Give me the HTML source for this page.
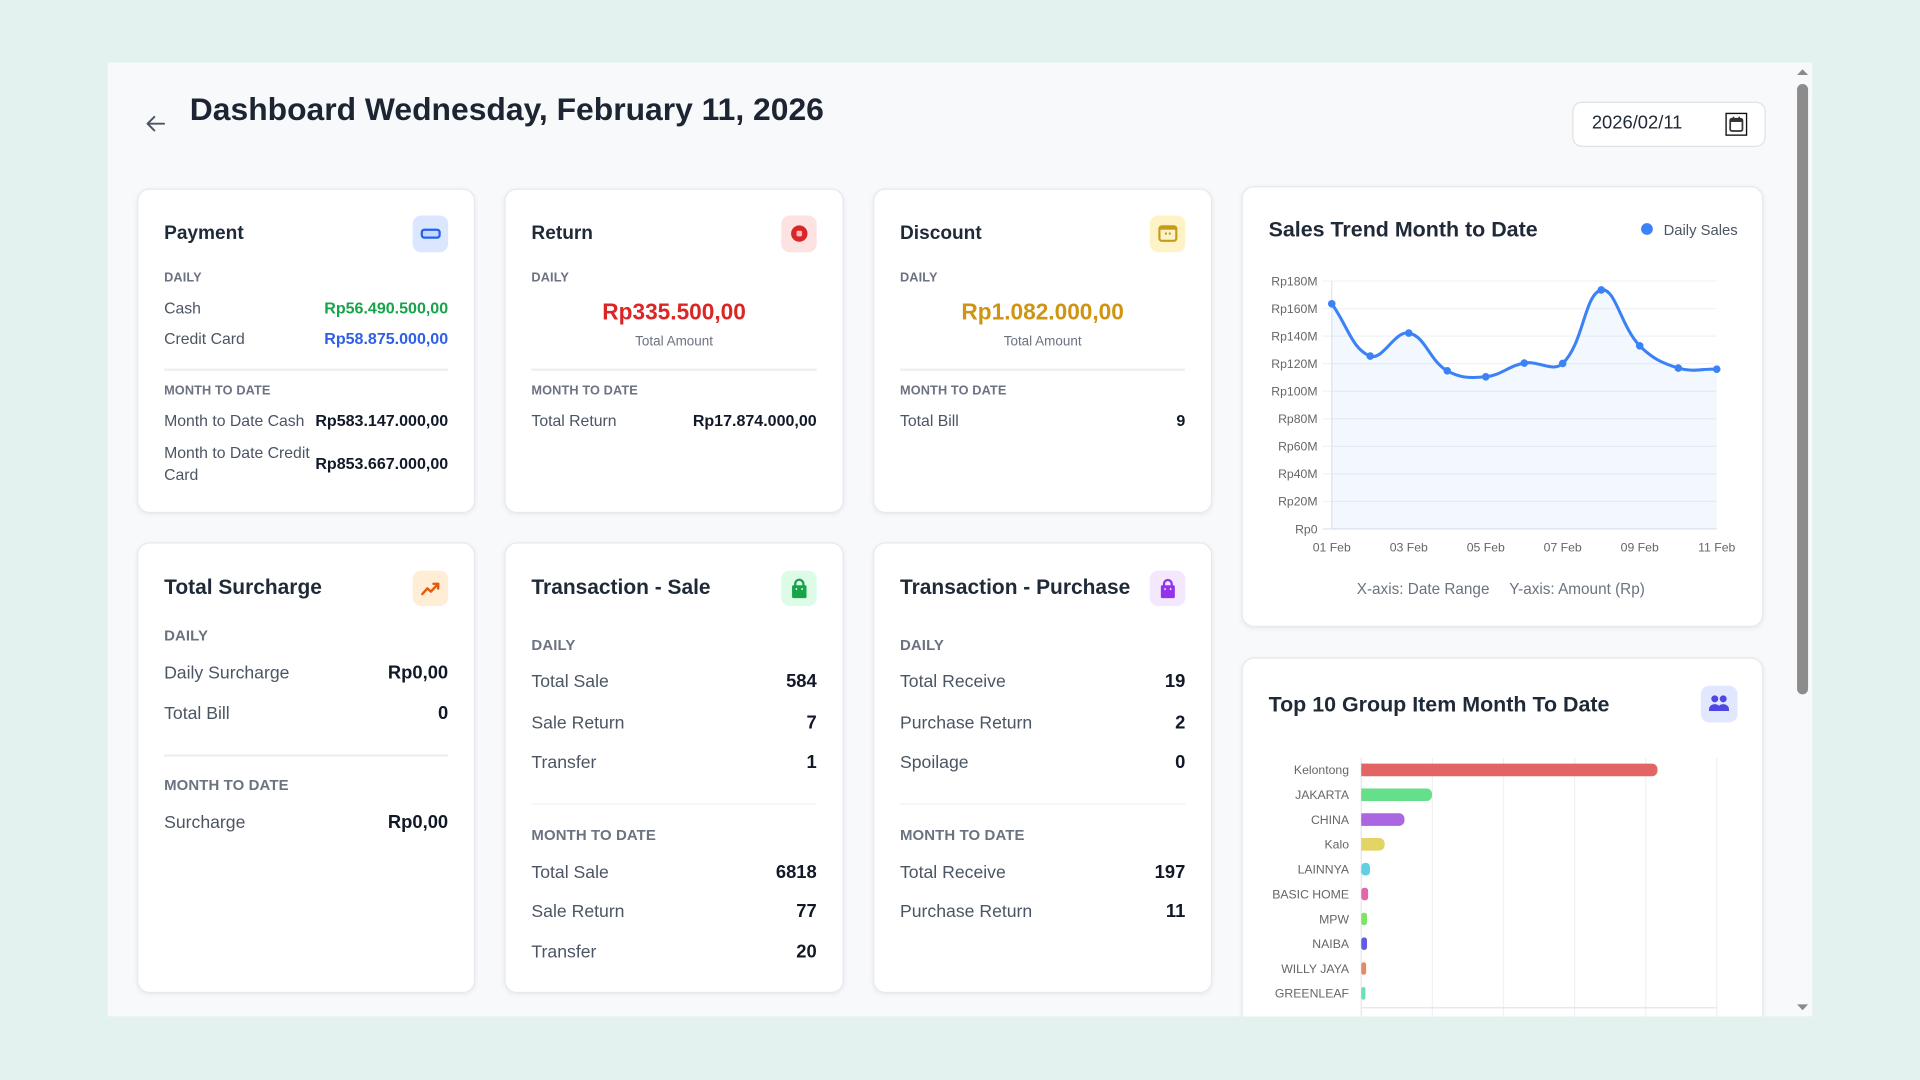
<!DOCTYPE html>
<html><head><meta charset="utf-8"><style>
html,body{margin:0;padding:0}
body{width:1920px;height:1080px;overflow:hidden;background:#e4f2ef;font-family:"Liberation Sans",Arial,sans-serif;position:relative}
#w{position:absolute;left:0;top:0;width:1568px;height:882px;transform:scale(1.2244898);transform-origin:0 0}
.panel{position:absolute;left:88px;top:51px;width:1392px;height:779px;background:#f8f9fb;overflow:hidden}
.inner{position:absolute;left:-88px;top:-51px;width:1568px;height:882px}
.card{position:absolute;background:#fff;border:1px solid #e7e9ee;border-radius:10px;box-shadow:0 1px 4px rgba(16,24,40,0.07);box-sizing:border-box}
.t{position:absolute;line-height:20px;white-space:nowrap}
.l{left:21px}.r{right:21px;text-align:right}
.h1{font-size:15.6px;font-weight:bold;color:#1f2937}
.h2{font-size:17.1px;font-weight:bold;color:#1f2937}
.s1{font-size:10.4px;font-weight:bold;color:#6b7280;letter-spacing:.1px}
.s2{font-size:12.2px;font-weight:bold;color:#6b7280;letter-spacing:.1px}
.lb1{font-size:12.9px;color:#4b5563}
.v1{font-size:13.1px;font-weight:bold;color:#111827}
.lb2{font-size:14.4px;color:#4b5563}
.v2{font-size:15px;font-weight:bold;color:#111827}
.div{position:absolute;left:21px;right:21px;height:1.5px;background:#eef0f3}
.ic{position:absolute;right:21px;width:29.5px;height:29.5px;border-radius:7px}
.ic svg{display:block;width:100%;height:100%}
.c{left:0;right:0;text-align:center}
</style></head><body>
<div id="w">
<div class="panel"><div class="inner">

<svg style="position:absolute;left:0;top:0" width="1568" height="882">
<path d="M134 101 H120.5 M126 95.5 L120.5 101 L126 106.5" stroke="#4b5563" stroke-width="1.6" fill="none" stroke-linecap="round" stroke-linejoin="round"/>
</svg>
<div class="t" style="left:155px;top:73px;line-height:32px;font-size:26px;font-weight:bold;color:#1e2532">Dashboard Wednesday, February 11, 2026</div>

<div style="position:absolute;left:1283.5px;top:82.5px;width:158px;height:37.5px;border:1px solid #dfe2e6;border-radius:8px;background:#fff;box-sizing:border-box">
  <div class="t" style="left:15.5px;top:7.5px;font-size:15px;color:#1f2937">2026/02/11</div>
  <svg style="position:absolute;left:124.3px;top:8.5px" width="18" height="19" viewBox="0 0 18 19">
    <rect x="0.6" y="0.6" width="16.8" height="17.8" fill="none" stroke="#111" stroke-width="1.2"/>
    <rect x="4" y="5" width="10" height="10" rx="1.3" fill="none" stroke="#333" stroke-width="1.4"/>
    <rect x="4" y="5" width="10" height="2.6" fill="#333"/>
    <rect x="6" y="3.3" width="1.3" height="2.5" fill="#333"/><rect x="10.7" y="3.3" width="1.3" height="2.5" fill="#333"/>
  </svg>
</div>

<div class="card" style="left:112px;top:154px;width:276px;height:265px">
  <div class="t l h1" style="top:26px">Payment</div>
  <div class="ic" style="top:21px;background:#dbe7fe"><svg viewBox="0 0 30 30"><rect x="7.6" y="11.8" width="14.8" height="6.6" rx="2.2" fill="#c9d9fd" stroke="#2563eb" stroke-width="1.9"/></svg></div>
  <div class="t l s1" style="top:63px">DAILY</div>
  <div class="t l lb1" style="top:87px">Cash</div>
  <div class="t r v1" style="top:87px;color:#16a34a">Rp56.490.500,00</div>
  <div class="t l lb1" style="top:112px">Credit Card</div>
  <div class="t r v1" style="top:112px;color:#2f5fe8">Rp58.875.000,00</div>
  <div class="div" style="top:146px"></div>
  <div class="t l s1" style="top:155px">MONTH TO DATE</div>
  <div class="t l lb1" style="top:179px">Month to Date Cash</div>
  <div class="t r v1" style="top:179px">Rp583.147.000,00</div>
  <div class="t l lb1" style="top:205px">Month to Date Credit</div>
  <div class="t l lb1" style="top:223px">Card</div>
  <div class="t r v1" style="top:214px">Rp853.667.000,00</div>
</div>

<div class="card" style="left:412px;top:154px;width:277px;height:265px">
  <div class="t l h1" style="top:26px">Return</div>
  <div class="ic" style="top:21px;background:#fde2e2"><svg viewBox="0 0 30 30"><circle cx="15" cy="15" r="6.8" fill="#dc2626"/><rect x="12.7" y="12.7" width="4.6" height="4.6" rx="1.2" fill="#f8bcbc"/></svg></div>
  <div class="t l s1" style="top:63px">DAILY</div>
  <div class="t c" style="top:89px;line-height:22px;font-size:18.5px;font-weight:bold;color:#dc2626">Rp335.500,00</div>
  <div class="t c" style="top:114px;font-size:11px;color:#6b7280">Total Amount</div>
  <div class="div" style="top:146px"></div>
  <div class="t l s1" style="top:155px">MONTH TO DATE</div>
  <div class="t l lb1" style="top:179px">Total Return</div>
  <div class="t r v1" style="top:179px">Rp17.874.000,00</div>
</div>

<div class="card" style="left:713px;top:154px;width:277px;height:265px">
  <div class="t l h1" style="top:26px">Discount</div>
  <div class="ic" style="top:21px;background:#fef3c7"><svg viewBox="0 0 30 30"><rect x="8" y="9" width="14" height="12" rx="2" fill="none" stroke="#c99a1a" stroke-width="1.8"/><rect x="8" y="9" width="14" height="2.8" fill="#c99a1a"/><circle cx="13.4" cy="15" r="0.95" fill="#c99a1a"/><circle cx="16.6" cy="15" r="0.95" fill="#c99a1a"/></svg></div>
  <div class="t l s1" style="top:63px">DAILY</div>
  <div class="t c" style="top:89px;line-height:22px;font-size:18.5px;font-weight:bold;color:#cf9410">Rp1.082.000,00</div>
  <div class="t c" style="top:114px;font-size:11px;color:#6b7280">Total Amount</div>
  <div class="div" style="top:146px"></div>
  <div class="t l s1" style="top:155px">MONTH TO DATE</div>
  <div class="t l lb1" style="top:179px">Total Bill</div>
  <div class="t r v1" style="top:179px">9</div>
</div>

<div class="card" style="left:112px;top:443px;width:276px;height:368px">
  <div class="t l h2" style="top:26px">Total Surcharge</div>
  <div class="ic" style="top:21.5px;background:#ffedd5"><svg viewBox="0 0 30 30"><polyline points="8,19.5 12.2,14.8 15.2,17.4 21.2,11" fill="none" stroke="#ea580c" stroke-width="2" stroke-linejoin="round" stroke-linecap="round"/><polyline points="17.3,11 21.2,11 21.2,14.9" fill="none" stroke="#ea580c" stroke-width="2" stroke-linejoin="round" stroke-linecap="round"/></svg></div>
  <div class="t l s2" style="top:64.5px">DAILY</div>
  <div class="t l lb2" style="top:95.5px">Daily Surcharge</div>
  <div class="t r v2" style="top:95.5px">Rp0,00</div>
  <div class="t l lb2" style="top:129px">Total Bill</div>
  <div class="t r v2" style="top:129px">0</div>
  <div class="div" style="top:172px"></div>
  <div class="t l s2" style="top:186.5px">MONTH TO DATE</div>
  <div class="t l lb2" style="top:218px">Surcharge</div>
  <div class="t r v2" style="top:218px">Rp0,00</div>
</div>

<div class="card" style="left:412px;top:443px;width:277px;height:368px">
  <div class="t l h2" style="top:26px">Transaction - Sale</div>
  <div class="ic" style="top:21.5px;background:#dcfce7"><svg viewBox="0 0 30 30"><path d="M11.6 13 V11 a3.4 3.4 0 0 1 6.8 0 V13" fill="none" stroke="#16a34a" stroke-width="1.9"/><path d="M9 13.2 Q9 12.2 10 12.2 H20 Q21 12.2 21 13.2 V21.6 Q21 22.8 19.8 22.8 H10.2 Q9 22.8 9 21.6 Z" fill="#16a34a"/><circle cx="12.6" cy="15.3" r="0.8" fill="#dcfce7"/><circle cx="17.4" cy="15.3" r="0.8" fill="#dcfce7"/></svg></div>
  <div class="t l s2" style="top:72.5px">DAILY</div>
  <div class="t l lb2" style="top:103px">Total Sale</div><div class="t r v2" style="top:103px">584</div>
  <div class="t l lb2" style="top:136.5px">Sale Return</div><div class="t r v2" style="top:136.5px">7</div>
  <div class="t l lb2" style="top:169px">Transfer</div><div class="t r v2" style="top:169px">1</div>
  <div class="div" style="top:211.5px"></div>
  <div class="t l s2" style="top:227.5px">MONTH TO DATE</div>
  <div class="t l lb2" style="top:258.5px">Total Sale</div><div class="t r v2" style="top:258.5px">6818</div>
  <div class="t l lb2" style="top:291px">Sale Return</div><div class="t r v2" style="top:291px">77</div>
  <div class="t l lb2" style="top:323.5px">Transfer</div><div class="t r v2" style="top:323.5px">20</div>
</div>

<div class="card" style="left:713px;top:443px;width:277px;height:368px">
  <div class="t l h2" style="top:26px">Transaction - Purchase</div>
  <div class="ic" style="top:21.5px;background:#f3e8ff"><svg viewBox="0 0 30 30"><path d="M11.8 13 V11 a3.2 3.2 0 0 1 6.4 0 V13" fill="none" stroke="#9333ea" stroke-width="1.9"/><path d="M9.2 13.2 Q9.2 12.2 10.2 12.2 H19.8 Q20.8 12.2 20.8 13.2 V21.6 Q20.8 22.8 19.6 22.8 H10.4 Q9.2 22.8 9.2 21.6 Z" fill="#9333ea"/><circle cx="12.7" cy="15.3" r="0.8" fill="#f3e8ff"/><circle cx="17.3" cy="15.3" r="0.8" fill="#f3e8ff"/></svg></div>
  <div class="t l s2" style="top:72.5px">DAILY</div>
  <div class="t l lb2" style="top:103px">Total Receive</div><div class="t r v2" style="top:103px">19</div>
  <div class="t l lb2" style="top:136.5px">Purchase Return</div><div class="t r v2" style="top:136.5px">2</div>
  <div class="t l lb2" style="top:169px">Spoilage</div><div class="t r v2" style="top:169px">0</div>
  <div class="div" style="top:211.5px"></div>
  <div class="t l s2" style="top:227.5px">MONTH TO DATE</div>
  <div class="t l lb2" style="top:258.5px">Total Receive</div><div class="t r v2" style="top:258.5px">197</div>
  <div class="t l lb2" style="top:291px">Purchase Return</div><div class="t r v2" style="top:291px">11</div>
</div>

<div class="card" style="left:1014px;top:152px;width:426px;height:360px">
  <div class="t l" style="top:23.5px;font-size:17.5px;font-weight:bold;color:#1f2937">Sales Trend Month to Date</div>
  <div class="t" style="left:343.6px;top:24.5px;font-size:12.1px;color:#4b5563">Daily Sales</div>
  <div class="t" style="left:93px;top:317.5px;font-size:12.5px;color:#6b7280">X-axis: Date Range</div>
  <div class="t" style="left:217.6px;top:317.5px;font-size:12.5px;color:#6b7280">Y-axis: Amount (Rp)</div>
</div>

<div class="card" style="left:1014px;top:537px;width:426px;height:340px">
  <div class="t l" style="top:26.9px;font-size:17.5px;font-weight:bold;color:#1f2937">Top 10 Group Item Month To Date</div>
  <div class="ic" style="top:22px;right:20.5px;background:#e0e7ff"><svg viewBox="0 0 30 30"><circle cx="11.6" cy="10.9" r="2.9" fill="#4f46e5"/><circle cx="18.6" cy="10.9" r="2.9" fill="#4f46e5"/><path d="M6.8 21 V19.6 a4.8 4.3 0 0 1 9.6 0 V21 Z" fill="#4f46e5"/><path d="M13.8 21 V19.6 a4.8 4.3 0 0 1 9.6 0 V21 Z" fill="#4f46e5"/></svg></div>
</div>

<svg style="position:absolute;left:0;top:0" width="1568" height="882" font-family="Liberation Sans, Arial, sans-serif">
  <circle cx="1345" cy="187" r="4.8" fill="#3b82f6"/>
  <g stroke="#f1f2f4" stroke-width="1">
    <line x1="1080" y1="229.5" x2="1402" y2="229.5"/>
    <line x1="1080" y1="252" x2="1402" y2="252"/>
    <line x1="1080" y1="274.5" x2="1402" y2="274.5"/>
    <line x1="1080" y1="297" x2="1402" y2="297"/>
    <line x1="1080" y1="319.5" x2="1402" y2="319.5"/>
    <line x1="1080" y1="342" x2="1402" y2="342"/>
    <line x1="1080" y1="364.5" x2="1402" y2="364.5"/>
    <line x1="1080" y1="387" x2="1402" y2="387"/>
    <line x1="1080" y1="409.5" x2="1402" y2="409.5"/>
  </g>
  <line x1="1087.6" y1="229.5" x2="1087.6" y2="432" stroke="#e4e6ea" stroke-width="1"/>
  <line x1="1080" y1="432" x2="1402" y2="432" stroke="#e1e3e7" stroke-width="1"/>
  <g font-size="10" fill="#666" text-anchor="end">
    <text x="1076" y="233">Rp180M</text>
    <text x="1076" y="255.5">Rp160M</text>
    <text x="1076" y="278">Rp140M</text>
    <text x="1076" y="300.5">Rp120M</text>
    <text x="1076" y="323">Rp100M</text>
    <text x="1076" y="345.5">Rp80M</text>
    <text x="1076" y="368">Rp60M</text>
    <text x="1076" y="390.5">Rp40M</text>
    <text x="1076" y="413">Rp20M</text>
    <text x="1076" y="435.5">Rp0</text>
  </g>
  <g font-size="10" fill="#666" text-anchor="middle">
    <text x="1087.6" y="450.5">01 Feb</text>
    <text x="1150.5" y="450.5">03 Feb</text>
    <text x="1213.4" y="450.5">05 Feb</text>
    <text x="1276.2" y="450.5">07 Feb</text>
    <text x="1339.1" y="450.5">09 Feb</text>
    <text x="1402" y="450.5">11 Feb</text>
  </g>
  <path d="M1087.6,248.1 C1100.2,265.2 1104.1,285.2 1119.0,290.8 C1129.3,294.7 1139.1,269.8 1150.5,272.0 C1164.2,274.6 1167.3,294.5 1181.9,302.8 C1192.5,308.8 1201.1,308.9 1213.4,307.7 C1226.3,306.4 1231.9,298.7 1244.8,296.5 C1257.0,294.4 1268.2,304.4 1276.2,296.8 C1293.4,280.5 1293.9,240.0 1307.7,236.8 C1319.0,234.2 1323.9,267.0 1339.1,282.4 C1349.1,292.5 1357.1,296.5 1370.6,300.6 C1382.3,304.1 1389.4,301.1 1402.0,301.5 L1402,432 L1087.6,432 Z" fill="rgba(59,130,246,0.06)"/>
  <path d="M1087.6,248.1 C1100.2,265.2 1104.1,285.2 1119.0,290.8 C1129.3,294.7 1139.1,269.8 1150.5,272.0 C1164.2,274.6 1167.3,294.5 1181.9,302.8 C1192.5,308.8 1201.1,308.9 1213.4,307.7 C1226.3,306.4 1231.9,298.7 1244.8,296.5 C1257.0,294.4 1268.2,304.4 1276.2,296.8 C1293.4,280.5 1293.9,240.0 1307.7,236.8 C1319.0,234.2 1323.9,267.0 1339.1,282.4 C1349.1,292.5 1357.1,296.5 1370.6,300.6 C1382.3,304.1 1389.4,301.1 1402.0,301.5" fill="none" stroke="#3b82f6" stroke-width="2.5" stroke-linecap="round"/>
  <g fill="#3b82f6">
    <circle cx="1087.6" cy="248.1" r="3.1"/><circle cx="1119.0" cy="290.8" r="3.1"/><circle cx="1150.5" cy="272.0" r="3.1"/>
    <circle cx="1181.9" cy="302.8" r="3.1"/><circle cx="1213.4" cy="307.7" r="3.1"/><circle cx="1244.8" cy="296.5" r="3.1"/>
    <circle cx="1276.2" cy="296.8" r="3.1"/><circle cx="1307.7" cy="236.8" r="3.1"/><circle cx="1339.1" cy="282.4" r="3.1"/>
    <circle cx="1370.6" cy="300.6" r="3.1"/><circle cx="1402.0" cy="301.5" r="3.1"/>
  </g>

  <g stroke="#f0f1f3" stroke-width="1">
    <line x1="1169.8" y1="619" x2="1169.8" y2="830"/>
    <line x1="1227.9" y1="619" x2="1227.9" y2="830"/>
    <line x1="1285.9" y1="619" x2="1285.9" y2="830"/>
    <line x1="1344" y1="619" x2="1344" y2="830"/>
    <line x1="1402" y1="619" x2="1402" y2="830"/>
  </g>
  <line x1="1111.7" y1="619" x2="1111.7" y2="830" stroke="#e4e6ea" stroke-width="1"/>
  <line x1="1111.7" y1="823" x2="1402" y2="823" stroke="#e2e4e8" stroke-width="1"/>
  <g>
    <rect x="1111.7" y="623.6" width="241.9" height="10.3" rx="4.5" fill="#e26464"/><rect x="1111.7" y="623.6" width="5" height="10.3" fill="#e26464"/>
    <rect x="1111.7" y="643.9" width="57.8" height="10.3" rx="4.5" fill="#66df8a"/><rect x="1111.7" y="643.9" width="5" height="10.3" fill="#66df8a"/>
    <rect x="1111.7" y="664.2" width="35.3" height="10.3" rx="4.5" fill="#ab66e2"/><rect x="1111.7" y="664.2" width="5" height="10.3" fill="#ab66e2"/>
    <rect x="1111.7" y="684.4" width="19.1" height="10.3" rx="4.5" fill="#e3d466"/><rect x="1111.7" y="684.4" width="5" height="10.3" fill="#e3d466"/>
    <rect x="1111.7" y="704.7" width="7.1" height="10.3" rx="3" fill="#62cfe3"/>
    <rect x="1111.7" y="725.0" width="5.6" height="10.3" rx="2.5" fill="#e366a8"/>
    <rect x="1111.7" y="745.3" width="4.7" height="10.3" rx="2.2" fill="#7ce366"/>
    <rect x="1111.7" y="765.5" width="4.7" height="10.3" rx="2.2" fill="#5e5ee3"/>
    <rect x="1111.7" y="785.8" width="4.0" height="10.3" rx="2" fill="#e38a66"/>
    <rect x="1111.7" y="806.1" width="3.4" height="10.3" rx="1.7" fill="#66e3b0"/>
  </g>
  <g font-size="10" fill="#666" text-anchor="end">
    <text x="1101.7" y="632.3">Kelontong</text>
    <text x="1101.7" y="652.6">JAKARTA</text>
    <text x="1101.7" y="672.9">CHINA</text>
    <text x="1101.7" y="693.1">Kalo</text>
    <text x="1101.7" y="713.4">LAINNYA</text>
    <text x="1101.7" y="733.7">BASIC HOME</text>
    <text x="1101.7" y="754.0">MPW</text>
    <text x="1101.7" y="774.2">NAIBA</text>
    <text x="1101.7" y="794.5">WILLY JAYA</text>
    <text x="1101.7" y="814.8">GREENLEAF</text>
  </g>

  <polygon points="1467.6,61.3 1476.6,61.3 1472.1,56.6" fill="#8a8a8a"/>
  <rect x="1467.6" y="68.6" width="9" height="498.5" rx="4.5" fill="#8c8c8c"/>
  <polygon points="1467.6,820.2 1476.6,820.2 1472.1,825" fill="#8a8a8a"/>
</svg>

</div></div>
</div>
</body></html>
